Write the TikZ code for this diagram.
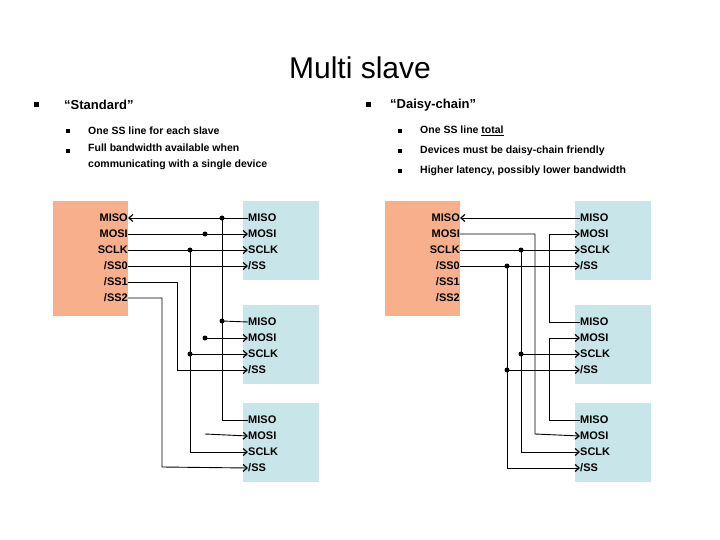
\documentclass[tikz,border=0pt]{standalone}
\usepackage{fontspec}
\setmainfont{Liberation Sans}
\usetikzlibrary{positioning}
\usetikzlibrary{arrows.meta}
\tikzset{%
	% boxes and pins
	master/.style = {fill=masterFill, minimum width=75pt, minimum height=115pt, anchor=north west, inner sep=0pt},
	slave/.style = {fill=slaveFill, minimum width=76pt, minimum height=79pt, anchor=north west, inner sep=0pt},
	pinL/.style = {font=\bfseries\fontsize{11pt}{12pt}\selectfont, anchor=west, inner sep=0pt},
	pinR/.style = {font=\bfseries\fontsize{11pt}{12pt}\selectfont, anchor=east, inner sep=0pt},
	wire/.style = {line width=0.9pt},
	sig/.style = {wire, -{Straight Barb[length=4pt, width=7pt, line width=1.2pt]}},
	joint/.style = {circle, fill=black, inner sep=0pt, minimum size=5pt},
	bul/.style = {fill=black, inner sep=0pt, minimum size=5pt},
	head/.style = {font=\bfseries\fontsize{13pt}{15pt}\selectfont, anchor=west, inner sep=0pt},
	item/.style = {font=\bfseries\fontsize{10.5pt}{16pt}\selectfont, anchor=west, inner sep=0pt, align=left}
}
\definecolor{masterFill}{RGB}{248,176,140}
\definecolor{slaveFill}{RGB}{200,230,234}
\begin{document}
\begin{tikzpicture}[x=1pt, y=-1pt]
	\useasboundingbox (0,0) rectangle (720,540);
	\node (title) at (360,68) {\fontsize{30pt}{34pt}\selectfont Multi slave};
	% left column text
	\node (bStd) [bul] at (36,105) {};
	\node (std) [head] at (64,105) {“Standard”};
	\node (b1) [bul, minimum size=4pt] at (68,131) {};
	\node (t1) [item] at (88,131) {One SS line for each slave};
	\node (b2) [bul, minimum size=4pt] at (68,151) {};
	\node (t2) [item, anchor=north west] at (88,144) {Full bandwidth available when\\communicating with a single device};
	% right column text
	\node (bDc) [bul] at (368,105) {};
	\node (dc) [head] at (390,105) {“Daisy-chain”};
	\node (b3) [bul, minimum size=4pt] at (400,131) {};
	\node (t3) [item] at (420,131) {One SS line \underline{total}};
	\node (b4) [bul, minimum size=4pt] at (400,151) {};
	\node (t4) [item] at (420,151) {Devices must be daisy-chain friendly};
	\node (b5) [bul, minimum size=4pt] at (400,171) {};
	\node (t5) [item] at (420,171) {Higher latency, possibly lower bandwidth};
	% boxes
	\foreach \side/\mx/\sx in {A/53/243, B/385/575} {
		\node (\side m) [master] at (\mx,201) {};
		\foreach \n/\t/\y in {miso/MISO/218, mosi/MOSI/234, sclk/SCLK/250, ssa/{/SS0}/266, ssb/{/SS1}/282, ssc/{/SS2}/298}
			\node (\side m\n) [pinR] at (\mx+75,\y) {\t};
		\foreach \k/\top in {1/201, 2/305, 3/403} {
			\node (\side s\k) [slave] at (\sx,\top) {};
			\foreach \n/\t/\d in {miso/MISO/17, mosi/MOSI/33, sclk/SCLK/49, ss/{/SS}/65}
				\node (\side s\k\n) [pinL] at (\sx+5,\top+\d) {\t};
		}
	}
	% standard wiring
	\draw[sig] (As1miso.west) -- (Ammiso.east);
	\draw[wire] (As3miso.west) -| (222,218);
	\draw[wire] (As2miso.west) -- (222,321);
	\node (j1) [joint] at (222,218) {};
	\node (j2) [joint] at (222,321) {};
	\draw[sig] (Ammosi.east) -- (As1mosi.west);
	\draw[sig] (205,338) -- (As2mosi.west);
	\draw[sig] (205,434) -- (As3mosi.west);
	\node (j3) [joint] at (205,234) {};
	\node (j4) [joint] at (205,338) {};
	\draw[sig] (Amsclk.east) -- (As1sclk.west);
	\draw[sig] (190,250) |- (As3sclk.west);
	\draw[sig] (190,354) -- (As2sclk.west);
	\node (j5) [joint] at (190,250) {};
	\node (j6) [joint] at (190,354) {};
	\draw[sig] (Amssa.east) -- (As1ss.west);
	\draw[sig] (Amssb.east) -| (177,370) -- (As2ss.west);
	\draw[sig] (Amssc.east) -| (162,467) -- (As3ss.west);
	% daisy-chain wiring
	\draw[sig] (Bs1miso.west) -- (Bmmiso.east);
	\draw[sig] (Bmmosi.east) -| (535,434) -- (Bs3mosi.west);
	\draw[sig] (Bs2miso.west) -| (549,234) -- (Bs1mosi.west);
	\draw[sig] (Bs3miso.west) -| (549,338) -- (Bs2mosi.west);
	\draw[sig] (Bmsclk.east) -- (Bs1sclk.west);
	\draw[sig] (521,250) |- (Bs3sclk.west);
	\draw[sig] (521,354) -- (Bs2sclk.west);
	\node (k1) [joint] at (521,250) {};
	\node (k2) [joint] at (521,354) {};
	\draw[sig] (Bmssa.east) -- (Bs1ss.west);
	\draw[sig] (507,266) |- (Bs3ss.west);
	\draw[sig] (507,370) -- (Bs2ss.west);
	\node (k3) [joint] at (507,266) {};
	\node (k4) [joint] at (507,370) {};
\end{tikzpicture}
\end{document}
